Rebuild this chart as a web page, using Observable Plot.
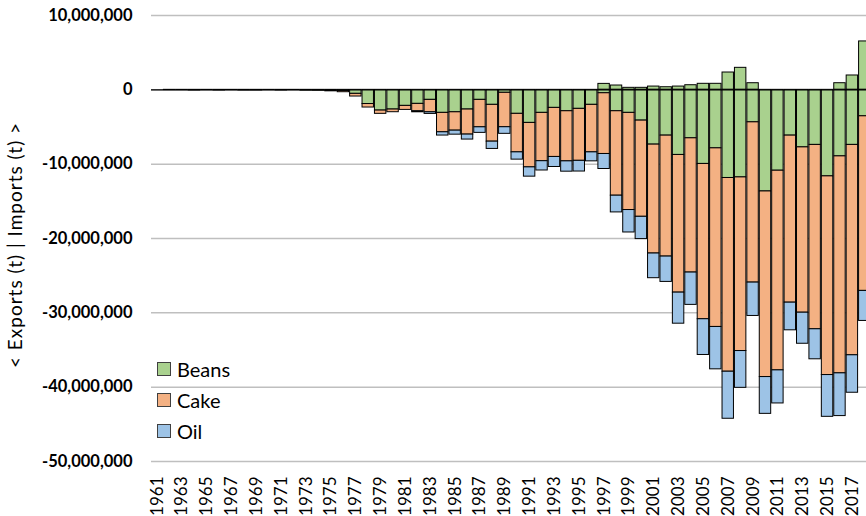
<!DOCTYPE html>
<html><head><meta charset="utf-8">
<script src="https://cdn.jsdelivr.net/npm/d3@7"></script>
<script src="https://cdn.jsdelivr.net/npm/@observablehq/plot@0.6"></script>
<style>
html,body{margin:0;padding:0;background:#fff;overflow:hidden;}
#wrap{position:relative;width:872px;height:516px;}
#ytitle{position:absolute;left:14px;top:245px;transform:translate(-50%,-50%) rotate(-90deg);white-space:nowrap;font:19px Lato, sans-serif;letter-spacing:1px;color:#000;}
#legend{position:absolute;left:157px;top:353px;font:20px Lato, sans-serif;color:#000;}
.item{display:flex;align-items:center;height:31px;}
.sw{width:12px;height:12px;border:1px solid #404040;margin-right:6px;}
</style></head><body><div id="wrap"><div id="chart"></div><div id="ytitle">&lt; Exports (t) | Imports (t) &gt;</div><div id="legend"></div></div>
<script>
const years = [1961,1962,1963,1964,1965,1966,1967,1968,1969,1970,1971,1972,1973,1974,1975,1976,1977,1978,1979,1980,1981,1982,1983,1984,1985,1986,1987,1988,1989,1990,1991,1992,1993,1994,1995,1996,1997,1998,1999,2000,2001,2002,2003,2004,2005,2006,2007,2008,2009,2010,2011,2012,2013,2014,2015,2016,2017,2018];
// values in millions of tonnes
const beansImports = [0,0,0,0,0,0,0,0,0,0,0,0,0,0,0,0,0,0,0,0,0,0,0,0,0,0,0,0,0,0,0,0,0,0,0,0,0.8,0.58,0.27,0.27,0.44,0.35,0.44,0.62,0.81,0.81,2.33,2.96,0.89,0,0,0,0,0,0,0.89,1.93,6.51];
const beansExports = [0,-0.03,-0.03,-0.08,-0.03,-0.08,-0.03,-0.08,-0.08,-0.03,-0.08,-0.03,-0.1,-0.12,-0.12,-0.15,-0.54,-1.91,-2.79,-2.65,-2.16,-1.89,-1.35,-3.1,-3.02,-2.65,-1.35,-2.02,-0.4,-3.23,-4.45,-3.1,-2.43,-2.88,-2.56,-2.02,-0.46,-2.88,-3.1,-4.14,-7.37,-6.16,-8.76,-6.52,-9.97,-7.87,-11.86,-11.78,-4.37,-13.67,-10.88,-6.16,-7.74,-7.41,-11.64,-8.95,-7.41,-3.56];
const cakeExports = [0,0,0,0,0,0,0,0,0,0,0,0,0,0,-0.08,-0.17,-0.36,-0.47,-0.44,-0.36,-0.54,-1.0,-1.67,-2.61,-2.47,-3.37,-3.69,-4.95,-4.63,-5.18,-5.98,-6.5,-6.6,-6.74,-6.99,-6.39,-8.17,-11.36,-13.07,-12.94,-14.65,-16.27,-18.52,-18.06,-20.89,-24.03,-26.06,-23.36,-21.56,-24.97,-26.86,-22.47,-22.24,-24.8,-26.73,-29.19,-28.3,-23.49];
const oilExports = [0,0,0,0,0,0,0,0,0,0,0,0,0,0,0,0,0,0,0,0,0,-0.13,-0.22,-0.44,-0.54,-0.67,-0.75,-0.98,-0.89,-0.98,-1.25,-1.25,-1.35,-1.39,-1.44,-1.21,-2.02,-2.25,-3.02,-3.0,-3.32,-3.41,-4.18,-4.35,-4.81,-5.7,-6.33,-4.95,-4.49,-4.95,-4.45,-3.72,-4.18,-4.04,-5.62,-5.75,-5.04,-4.04];
const seriesNames = ["Beans","Cake","Oil"];
const seriesColors = ["#a9d18e","#f4b183","#9dc3e6"];
const yTicks = [10e6,0,-10e6,-20e6,-30e6,-40e6,-50e6];
const xTickYears = years.filter((y,i)=> i % 2 === 0);

const rows = [];
years.forEach((yr,i)=>{
  rows.push({year: yr, series: "Beans", value: beansImports[i]*1e6});
  rows.push({year: yr, series: "Beans", value: beansExports[i]*1e6});
  rows.push({year: yr, series: "Cake", value: cakeExports[i]*1e6});
  rows.push({year: yr, series: "Oil", value: oilExports[i]*1e6});
});
const data = rows.filter(d => d.value !== 0);
const fmt = d => d.toLocaleString("en-US");

const chart = Plot.plot({
  width: 872, height: 516,
  marginLeft: 151, marginRight: 2, marginTop: 15, marginBottom: 55,
  style: "font-family: Lato, sans-serif; font-size: 16px; max-width: none; overflow: visible; background: #fff;",
  x: {type: "band", domain: years, paddingInner: 0.08, paddingOuter: 0, round: false, label: null},
  y: {domain: [-50e6, 10e6], label: null},
  color: {domain: seriesNames, range: seriesColors},
  marks: [
    Plot.gridY(yTicks, {stroke: "#bfbfbf", strokeOpacity: 1, strokeWidth: 1.5}),
    Plot.barY(data, Plot.stackY({x: "year", y: "value", fill: "series", stroke: "#000", strokeWidth: 1, order: null})),
    Plot.ruleY([0], {stroke: "#000", strokeWidth: 1.2}),
    Plot.axisY(yTicks, {tickSize: 0, tickPadding: 19, tickFormat: fmt, fontWeight: "bold", fontSize: 16.5, label: null}),
    Plot.axisX(xTickYears, {tickSize: 0, tickPadding: 15, tickRotate: -90, tickFormat: d => String(d), fontSize: 17, label: null})
  ]
});
document.getElementById("chart").appendChild(chart);

const legend = document.getElementById("legend");
seriesNames.forEach((name,i)=>{
  const item = document.createElement("div");
  item.className = "item";
  const sw = document.createElement("div");
  sw.className = "sw";
  sw.style.background = seriesColors[i];
  const label = document.createElement("span");
  label.textContent = name;
  item.appendChild(sw); item.appendChild(label);
  legend.appendChild(item);
});
</script></body></html>
